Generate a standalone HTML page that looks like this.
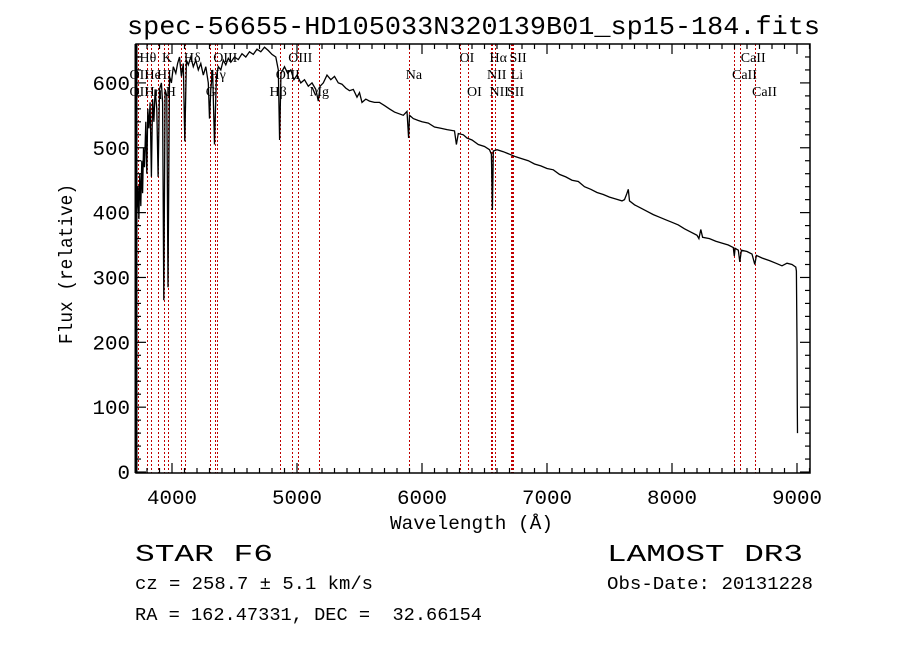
<!DOCTYPE html>
<html><head><meta charset="utf-8"><style>
html,body{margin:0;padding:0;background:#fff;}
svg{display:block;}
text{fill:#000;}
.mono{font-family:"Liberation Mono","DejaVu Sans Mono",monospace;}
.lab{font-family:"Liberation Serif",serif;font-size:14px;}
</style></head><body>
<svg id="chart" width="900" height="649" viewBox="0 0 900 649" xmlns="http://www.w3.org/2000/svg">
<text class="mono" x="127" y="34" font-size="26" textLength="693" lengthAdjust="spacingAndGlyphs">spec-56655-HD105033N320139B01_sp15-184.fits</text>
<g id="lines"></g>
<g id="labels"></g>
<path id="spec" fill="none" stroke="#000" stroke-width="1.3"/>
<g id="axes"></g>
<text class="mono" x="390" y="529" font-size="19" textLength="163" lengthAdjust="spacingAndGlyphs">Wavelength (Å)</text>
<text class="mono" transform="translate(72,344) rotate(-90)" font-size="19" textLength="160" lengthAdjust="spacingAndGlyphs">Flux (relative)</text>
<text class="mono" x="135" y="561" font-size="24" textLength="138" lengthAdjust="spacingAndGlyphs">STAR   F6</text>
<text class="mono" x="607" y="561" font-size="24" textLength="196" lengthAdjust="spacingAndGlyphs">LAMOST DR3</text>
<text class="mono" x="135" y="589" font-size="18" textLength="238" lengthAdjust="spacingAndGlyphs">cz = 258.7 ± 5.1 km/s</text>
<text class="mono" x="607" y="589" font-size="18" textLength="206" lengthAdjust="spacingAndGlyphs">Obs-Date: 20131228</text>
<text class="mono" x="135" y="620" font-size="18" textLength="347" lengthAdjust="spacingAndGlyphs" xml:space="preserve">RA = 162.47331, DEC =  32.66154</text>
</svg>
<script>
const wavelengths=[3712,3714,3720,3728,3735,3742,3750,3758,3765,3772,3780,3790,3798,3806,3815,3825,3835,3845,3855,3865,3878,3889,3900,3915,3925,3934,3945,3958,3968,3980,3995,4010,4030,4045,4060,4075,4090,4102,4115,4130,4150,4170,4190,4210,4230,4250,4270,4290,4300,4310,4325,4340,4355,4370,4390,4410,4430,4450,4470,4500,4530,4560,4590,4620,4650,4680,4710,4740,4770,4800,4830,4850,4861,4872,4900,4925,4950,4975,5000,5030,5060,5090,5120,5150,5170,5185,5210,5240,5270,5300,5330,5360,5390,5420,5450,5480,5500,5520,5550,5580,5620,5660,5700,5740,5780,5850,5880,5893,5900,5930,5970,6000,6050,6100,6150,6200,6260,6275,6290,6330,6360,6400,6450,6500,6540,6555,6563,6570,6600,6650,6700,6750,6800,6850,6900,6950,7000,7050,7100,7150,7200,7250,7300,7350,7400,7450,7500,7550,7600,7620,7640,7650,7660,7700,7750,7800,7850,7900,7950,8000,8050,8100,8150,8200,8215,8230,8245,8300,8350,8400,8450,8490,8498,8505,8530,8542,8555,8600,8640,8662,8675,8720,8780,8830,8880,8920,8960,8990,8995,9000,9002,9004];
const fluxes=[30,420,400,440,390,460,410,480,430,500,470,540,460,560,530,570,455,575,540,590,560,455,590,600,570,265,590,580,285,610,600,625,615,630,640,610,630,510,635,628,640,625,635,620,630,612,625,600,545,590,620,505,610,625,620,635,628,638,632,640,636,645,640,648,644,652,648,655,650,644,640,620,512,615,625,615,620,605,612,600,605,595,600,590,572,595,600,612,605,610,600,598,592,588,590,578,585,570,575,572,570,570,565,560,555,550,556,515,550,545,542,540,538,532,530,528,526,505,522,520,515,512,505,502,497,490,404,495,497,494,490,486,483,480,475,472,468,466,459,455,450,448,440,436,431,428,424,421,418,420,430,436,418,412,407,402,397,393,389,385,381,375,370,365,360,374,362,360,356,353,350,346,333,345,342,324,342,340,336,320,334,330,326,322,318,322,320,316,310,200,100,60];
const lineWaves=[3727,3798,3835,3889,3934,3968,4072,4102,4304,4340,4363,4861,4959,5007,5175,5893,6300,6364,6548,6563,6583,6708,6716,6731,8498,8542,8662];
const labelTexts=["Hθ","K","Hδ","OIII","OIII","OI","Hα","SII","CaII","OII","He","HI","Hγ","OIII","Na","NII","Li","CaII","OII","Hη","H","G","Hβ","Mg","OI","NII","SII","CaII"];
const labelWaves=[3740,3920,4095,4330,4930,6300,6540,6700,8550,3660,3780,3880,4300,4830,5870,6520,6710,8480,3660,3780,3950,4270,4780,5100,6360,6540,6680,8640];
const labelRows=[0,0,0,0,0,0,0,0,0,1,1,1,1,1,1,1,1,1,2,2,2,2,2,2,2,2,2,2];
const xTickLabels=["4000","5000","6000","7000","8000","9000"];
const yTickLabels=["0","100","200","300","400","500","600"];

const L=136,R=810,T=44,B=473;
const X0=3712,X1=9104,Y0=-1.5,Y1=660;
const sx=w=>L+(w-X0)/(X1-X0)*(R-L);
const sy=f=>B-(f-Y0)/(Y1-Y0)*(B-T);
const NS="http://www.w3.org/2000/svg";
function mk(tag,attrs,parent){const e=document.createElementNS(NS,tag);for(const k in attrs)e.setAttribute(k,attrs[k]);parent.appendChild(e);return e;}

let d="";
wavelengths.forEach((w,i)=>{const y=Math.max(T,Math.min(B,sy(fluxes[i])));d+=(i?"L":"M")+sx(w).toFixed(1)+","+y.toFixed(1);});
document.getElementById("spec").setAttribute("d",d);

const lg=document.getElementById("lines");
lineWaves.forEach(w=>{
  const x=Math.round(sx(w))+0.5;
  const l=mk("line",{x1:x,x2:x,y1:T,y2:B,stroke:"#c00000","stroke-width":1,"stroke-dasharray":"2,2"},lg);
  
  
});
const lbg=document.getElementById("labels");
const rowY=[62,79,96];
labelTexts.forEach((t,i)=>{
  const e=mk("text",{x:sx(labelWaves[i]),y:rowY[labelRows[i]],class:"lab"},lbg);
  e.textContent=t;
  
  
});

const ag=document.getElementById("axes");
mk("rect",{x:L,y:T,width:R-L,height:B-T,fill:"none",stroke:"#000","stroke-width":1.5},ag);
mk("line",{x1:L,x2:L,y1:T,y2:B,stroke:"#000","stroke-width":3},ag);
for(let w=3800;w<=9100;w+=100){
  const maj=w%1000===0, len=maj?10:5, x=sx(w);
  mk("line",{x1:x,x2:x,y1:B,y2:B-len,stroke:"#000","stroke-width":1.2},ag);
  mk("line",{x1:x,x2:x,y1:T,y2:T+len,stroke:"#000","stroke-width":1.2},ag);
}
xTickLabels.forEach(s=>{
  const e=mk("text",{x:sx(+s),y:504,"text-anchor":"middle",class:"mono","font-size":20,textLength:50,lengthAdjust:"spacingAndGlyphs"},ag);
  e.textContent=s;
  
  
});
for(let v=0;v<=640;v+=20){
  const maj=v%100===0, len=maj?10:5, y=sy(v);
  mk("line",{x1:L,x2:L+len,y1:y,y2:y,stroke:"#000","stroke-width":1.2},ag);
  mk("line",{x1:R,x2:R-len,y1:y,y2:y,stroke:"#000","stroke-width":1.2},ag);
}
yTickLabels.forEach(s=>{
  const e=mk("text",{x:130,y:sy(+s)+7,"text-anchor":"end",class:"mono","font-size":20,textLength:s.length*12.5,lengthAdjust:"spacingAndGlyphs"},ag);
  e.textContent=s;
  
  
});
</script>
</body></html>
